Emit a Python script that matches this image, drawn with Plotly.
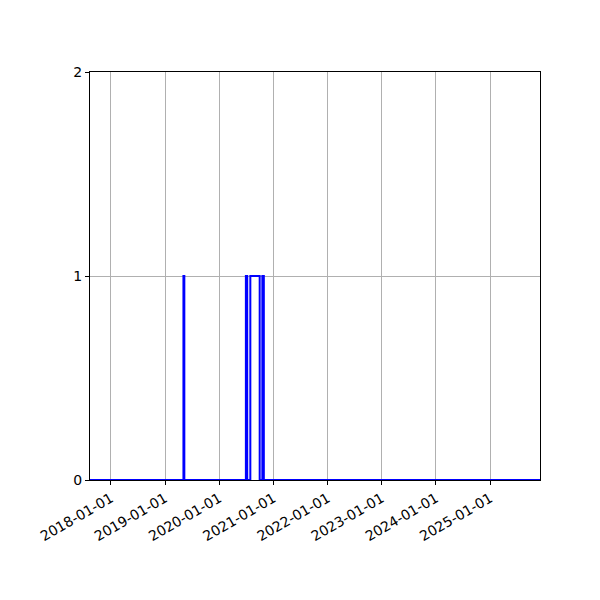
import plotly.graph_objects as go

# step series: 0/1 events
dates = [
    '2017-08-13', '2019-05-05', '2019-05-11',
    '2020-06-29', '2020-07-08', '2020-07-29', '2020-09-30',
    '2020-10-18', '2020-10-28', '2025-12-03',
]
values = [0, 1, 0, 1, 0, 1, 0, 1, 0, 0]

x_range = ['2017-08-13', '2025-12-03']
y_ticks = [0, 1, 2]

fig = go.Figure(go.Scatter(
    x=dates, y=values, mode='lines',
    line=dict(color='#0000ff', width=2, shape='hv'),
))

axis_common = dict(
    showline=True, linecolor='black', linewidth=1, mirror=True,
    ticks='outside', ticklen=4, tickcolor='black',
    showgrid=True, gridcolor='#b0b0b0', gridwidth=1,
    zeroline=False,
)

# page has an 8px body margin, so shift the plot box back by that
fig.update_layout(
    width=600, height=600,
    margin=dict(l=82, r=68, t=64, b=128),
    paper_bgcolor='white', plot_bgcolor='white',
    showlegend=False,
    font=dict(family='DejaVu Sans', size=14, color='black'),
    xaxis=dict(range=x_range, type='date', tick0='2018-01-01', dtick='M12',
               tickformat='%Y-%m-%d', tickangle=-30, **axis_common),
    yaxis=dict(range=[0, 2], tickvals=y_ticks, **axis_common),
)

fig.write_html('out.html')
